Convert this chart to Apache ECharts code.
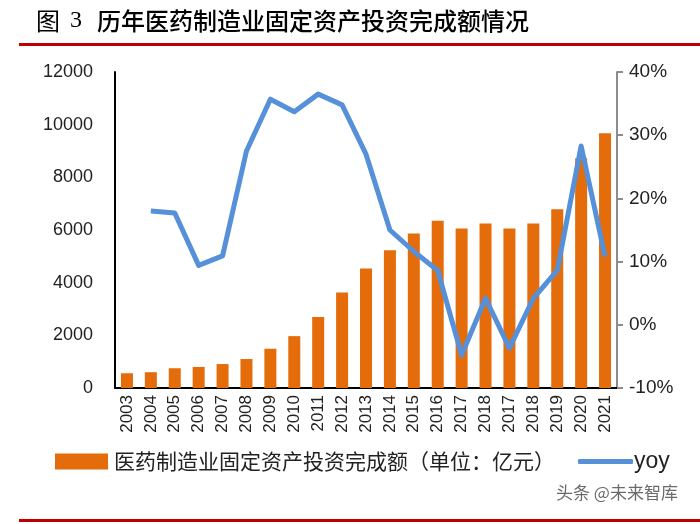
<!DOCTYPE html>
<html>
<head>
<meta charset="utf-8">
<script src="https://cdn.jsdelivr.net/npm/echarts@6/dist/echarts.min.js"></script>
<style>
html,body{margin:0;padding:0;background:#fff;}
#c{width:700px;height:524px;}
</style>
</head>
<body>
<div id="c"></div>
<script>
const years = ['2003','2004','2005','2006','2007','2008','2009','2010','2011','2012','2013','2014','2015','2016','2017','2018','2017','2018','2019','2020','2021'];
const investment = [560, 600, 750, 800, 910, 1100, 1490, 1970, 2700, 3630, 4540, 5230, 5870, 6350, 6060, 6250, 6060, 6250, 6790, 8720, 9670];
const yoy = [null, 18.0, 17.7, 9.4, 10.9, 27.5, 35.7, 33.7, 36.5, 34.8, 27.0, 15.0, 11.6, 8.6, -4.8, 4.2, -3.7, 4.2, 8.6, 28.3, 10.8];
const leftTicks = {min: 0, max: 12000, interval: 2000};
const rightTicks = {min: -10, max: 40, interval: 10};
const barName = '医药制造业固定资产投资完成额（单位：亿元）';
const lineName = 'yoy';

const chart = echarts.init(document.getElementById('c'), null, {renderer: 'canvas'});
const sans = '"Liberation Sans", Arial, sans-serif';
const cjk = '"Noto Sans CJK SC", sans-serif';
chart.setOption({
  animation: false,
  backgroundColor: '#fff',
  grid: {left: 115, right: 83, top: 72, bottom: 136, containLabel: false},
  legend: [
    {
      left: 55, top: 451, padding: 0,
      itemWidth: 53, itemHeight: 16,
      textStyle: {fontFamily: cjk, fontSize: 21, color: '#222', padding: [0, 0, 0, 1]},
      data: [{name: barName, icon: 'rect'}]
    },
    {
      left: 578, top: 450, padding: 0,
      itemWidth: 55, itemHeight: 5,
      textStyle: {fontFamily: sans, fontSize: 23, color: '#222', padding: [0, 0, 0, -4]},
      data: [{name: lineName, icon: 'roundRect'}]
    }
  ],
  xAxis: {
    type: 'category',
    data: years.map((_, i) => String(i)),
    axisLine: {lineStyle: {color: '#000', width: 2}},
    axisTick: {show: false},
    axisLabel: {
      rotate: 90, margin: 7, interval: 0,
      fontFamily: sans, fontSize: 17, color: '#222',
      formatter: (v, i) => years[i]
    }
  },
  yAxis: [
    {
      type: 'value', min: leftTicks.min, max: leftTicks.max, interval: leftTicks.interval,
      splitLine: {show: false},
      axisLine: {show: true, lineStyle: {color: '#000', width: 2}},
      axisTick: {show: false},
      axisLabel: {margin: 22, fontFamily: sans, fontSize: 18, color: '#222', formatter: v => String(v)}
    },
    {
      type: 'value', min: rightTicks.min, max: rightTicks.max, interval: rightTicks.interval,
      splitLine: {show: false},
      axisLine: {show: true, lineStyle: {color: '#8c8c8c', width: 2}},
      axisTick: {show: true, length: 6, lineStyle: {color: '#8c8c8c', width: 2}},
      axisLabel: {margin: 12, fontFamily: sans, fontSize: 19, color: '#222', formatter: '{value}%'}
    }
  ],
  series: [
    {
      name: barName, type: 'bar', yAxisIndex: 0,
      data: investment, barWidth: 12,
      itemStyle: {color: '#E46C0A'}
    },
    {
      name: lineName, type: 'line', yAxisIndex: 1,
      data: yoy, symbol: 'none', smooth: false,
      lineStyle: {color: '#5590D8', width: 5, join: 'round'},
      itemStyle: {color: '#5590D8'}
    }
  ],
  graphic: [
    {type: 'text', left: 36, top: 9, style: {text: '图', font: '24px ' + cjk, fill: '#000'}},
    {type: 'text', left: 70, top: 9, style: {text: '3', font: '24px "Liberation Serif", serif', fill: '#000'}},
    {type: 'text', left: 97, top: 9, style: {text: '历年医药制造业固定资产投资完成额情况', font: '500 24px ' + cjk, fill: '#000'}},
    {type: 'rect', shape: {x: 19, y: 43, width: 681, height: 3}, style: {fill: '#C00000'}},
    {type: 'rect', shape: {x: 19, y: 519, width: 681, height: 3}, style: {fill: '#C00000'}},
    {type: 'text', left: 556, top: 484, style: {text: '头条 @未来智库', font: '17px ' + cjk, fill: 'rgba(80,80,80,0.85)'}}
  ]
});
</script>
</body>
</html>
